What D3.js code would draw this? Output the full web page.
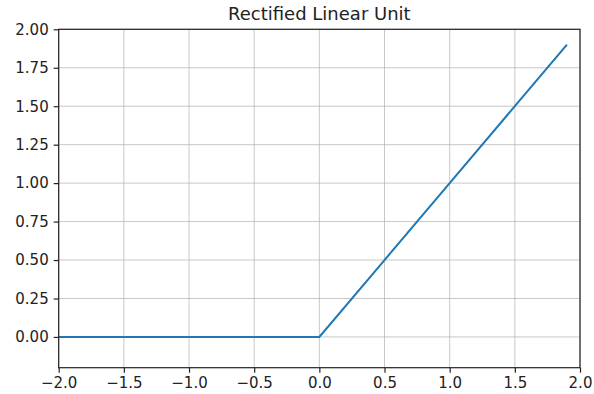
<!DOCTYPE html>
<html><head><meta charset="utf-8">
<script src="https://cdn.jsdelivr.net/npm/d3@7"></script>
<style>body{margin:0;background:#fff}svg{display:block}</style>
</head><body>
<script>
const title = "Rectified Linear Unit";
const xValues = [-2.0, -1.5, -1.0, -0.5, 0.0, 0.5, 1.0, 1.5, 1.9];
const yValues = [0.0, 0.0, 0.0, 0.0, 0.0, 0.5, 1.0, 1.5, 1.9];
const xTicks = [-2.0, -1.5, -1.0, -0.5, 0.0, 0.5, 1.0, 1.5, 2.0];
const yTicks = [0.00, 0.25, 0.50, 0.75, 1.00, 1.25, 1.50, 1.75, 2.00];

const W = 594, H = 394;
const m = {left: 58.7, right: 594 - 580, top: 29.3, bottom: 394 - 367.7};
const svg = d3.select("body").append("svg").attr("width", W).attr("height", H);
const x = d3.scaleLinear().domain([-2, 2]).range([m.left, W - m.right]);
const y = d3.scaleLinear().domain([-0.2, 2.0]).range([H - m.bottom, m.top]);
const font = "DejaVu Sans, sans-serif";
const fmtX = v => d3.format(".1f")(v).replace("-", "\u2212");
const fmtY = v => d3.format(".2f")(v).replace("-", "\u2212");

// grid
svg.append("g").selectAll("line").data(xTicks).join("line")
  .attr("x1", d => x(d)).attr("x2", d => x(d)).attr("y1", m.top).attr("y2", H - m.bottom)
  .attr("stroke", "#b0b0b0").attr("stroke-opacity", 0.7).attr("stroke-width", 1);
svg.append("g").selectAll("line").data(yTicks).join("line")
  .attr("y1", d => y(d)).attr("y2", d => y(d)).attr("x1", m.left).attr("x2", W - m.right)
  .attr("stroke", "#b0b0b0").attr("stroke-opacity", 0.7).attr("stroke-width", 1);

// line
const pts = xValues.map((v, i) => [v, yValues[i]]);
svg.append("path").datum(pts)
  .attr("d", d3.line().x(d => x(d[0])).y(d => y(d[1])))
  .attr("fill", "none").attr("stroke", "#1f77b4").attr("stroke-width", 2);

// axes
const xAxis = svg.append("g").attr("transform", `translate(0,${H - m.bottom})`)
  .call(d3.axisBottom(x).tickValues(xTicks).tickFormat(fmtX).tickSize(5).tickPadding(5).tickSizeOuter(0));
const yAxis = svg.append("g").attr("transform", `translate(${m.left},0)`)
  .call(d3.axisLeft(y).tickValues(yTicks).tickFormat(fmtY).tickSize(5).tickPadding(5).tickSizeOuter(0));
[xAxis, yAxis].forEach(a => {
  a.selectAll("text").attr("font-family", font).attr("font-size", 15).attr("fill", "#222");
  a.selectAll(".tick line").attr("stroke", "#222").attr("stroke-width", 1.2);
  a.select(".domain").remove();
});
// spines
svg.append("rect").attr("x", m.left).attr("y", m.top)
  .attr("width", W - m.right - m.left).attr("height", H - m.bottom - m.top)
  .attr("fill", "none").attr("stroke", "#222").attr("stroke-width", 1.2);

svg.append("text").attr("x", (m.left + W - m.right) / 2).attr("y", 20)
  .attr("text-anchor", "middle").attr("font-family", font).attr("font-size", 18)
  .attr("fill", "#222").text(title);
</script>
</body></html>
